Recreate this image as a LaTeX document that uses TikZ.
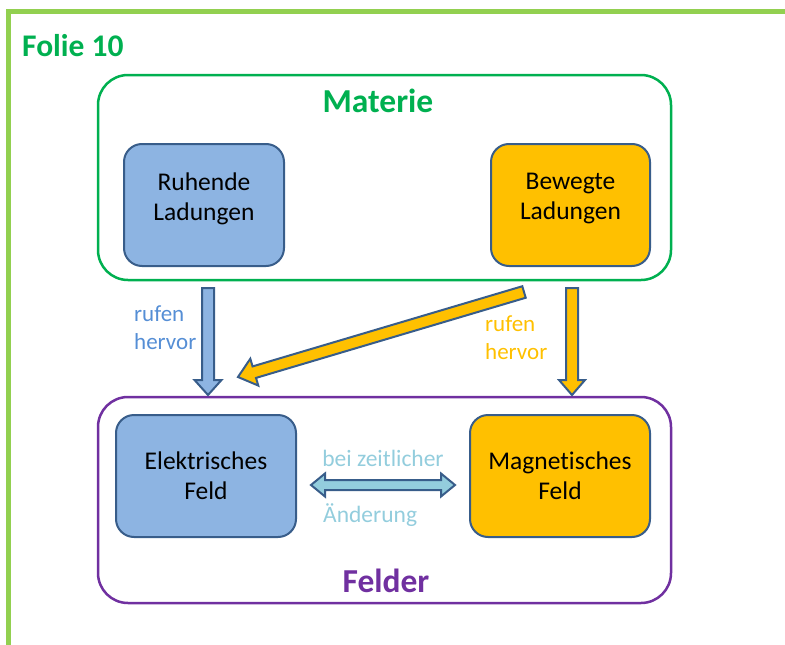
\documentclass[tikz,border=0pt]{standalone}
\usepackage{fontspec}
\setmainfont{Carlito}[Ligatures=NoCommon]
\usetikzlibrary{calc}
\definecolor{framegreen}{HTML}{92D050}
\definecolor{matgreen}{HTML}{00B050}
\definecolor{felpurple}{HTML}{7030A0}
\definecolor{outl}{HTML}{385D8A}
\definecolor{bluefill}{HTML}{8DB4E2}
\definecolor{orangefill}{HTML}{FFC000}
\definecolor{aquafill}{HTML}{93CDDD}
\definecolor{bluetext}{HTML}{558ED5}
\tikzset{
  group/.style={draw, line width=2.5pt, rounded corners=30pt, inner sep=0},
  box/.style={draw=outl, line width=2pt, rounded corners=18pt, align=center,
    font=\fontsize{25.5}{30}\selectfont, inner sep=0},
  boxtext/.style={align=center, font=\fontsize{25.5}{30}\selectfont, inner sep=0},
  blockarr/.style={draw=outl, line width=2pt, line join=miter},
  lbl/.style={font=\fontsize{23}{28}\selectfont, align=left, inner sep=0},
  title/.style={font=\bfseries\fontsize{33.5}{38}\selectfont, inner sep=0}
}
% #1 style, #2 start, #3 tip, #4 shaft half, #5 head half, #6 head length
\newcommand{\singlearrow}[6]{%
  \coordinate (hb) at ($(#3)!#6!(#2)$);
  \draw[#1] ($(#2)!#4!90:(#3)$) -- ($(hb)!#4!90:(#3)$) -- ($(hb)!#5!90:(#3)$)
    -- (#3) -- ($(hb)!#5!-90:(#3)$) -- ($(hb)!#4!-90:(#3)$) -- ($(#2)!#4!-90:(#3)$) -- cycle;
}
\newcommand{\doublearrow}[6]{%
  \coordinate (hb) at ($(#3)!#6!(#2)$);
  \coordinate (ha) at ($(#2)!#6!(#3)$);
  \draw[#1] (#2) -- ($(ha)!#5!90:(#3)$) -- ($(ha)!#4!90:(#3)$) -- ($(hb)!#4!90:(#3)$)
    -- ($(hb)!#5!90:(#3)$) -- (#3) -- ($(hb)!#5!-90:(#3)$) -- ($(hb)!#4!-90:(#3)$)
    -- ($(ha)!#4!-90:(#3)$) -- ($(ha)!#5!-90:(#3)$) -- cycle;
}
\begin{document}
\begin{tikzpicture}[x=1pt,y=-1pt]
\useasboundingbox (0,0) rectangle (785,645);
% slide frame
\draw[framegreen, line width=5pt] (8.5,645) -- (8.5,11) -- (785,11);
\node[title, font=\bfseries\fontsize{31.5}{38}\selectfont, text=matgreen, anchor=west] (folie) at (22,46) {Folie 10};

% groups
\node[group, draw=matgreen, minimum width=573, minimum height=205] (mat) at (384.5,177.5) {};
\node[title, text=matgreen] (mattitle) at (378,101) {Materie};
\node[group, draw=felpurple, minimum width=573, minimum height=206] (fel) at (384.5,500) {};
\node[title, text=felpurple] (feltitle) at (386,581) {Felder};

% boxes
\node[box, fill=bluefill, minimum width=160, minimum height=122] (ruh) at (204,205) {};
\node[boxtext] (ruht) at (204,199) {Ruhende\\Ladungen};
\node[box, fill=orangefill, minimum width=159, minimum height=122] (bew) at (570.5,205) {};
\node[boxtext] (bewt) at (570.5,199) {Bewegte\\Ladungen};
\node[box, fill=bluefill, minimum width=180, minimum height=122] (ele) at (206,476) {Elektrisches\\Feld};
\node[box, fill=orangefill, minimum width=180, minimum height=122] (mag) at (560,476) {Magnetisches\\Feld};

% arrows
\coordinate (a1s) at (208,288);
\coordinate (a1t) at (208,395);
\singlearrow{blockarr, fill=bluefill}{a1s}{a1t}{6pt}{13.5pt}{15pt}
\coordinate (a2s) at (524,292);
\coordinate (a2t) at (238,377);
\singlearrow{blockarr, fill=orangefill}{a2s}{a2t}{6pt}{14pt}{17pt}
\coordinate (a3s) at (572,288);
\coordinate (a3t) at (572,395);
\singlearrow{blockarr, fill=orangefill}{a3s}{a3t}{6pt}{13pt}{15pt}
\coordinate (a4s) at (311,485);
\coordinate (a4t) at (455,485);
\doublearrow{blockarr, fill=aquafill}{a4s}{a4t}{5pt}{11.5pt}{14pt}

% labels
\node[lbl, text=bluetext, anchor=west] (l1) at (134,328) {rufen\\hervor};
\node[lbl, text=orangefill, anchor=west] (l2) at (485,338) {rufen\\hervor};
\node[lbl, font=\fontsize{23.5}{28}\selectfont, text=aquafill] (l3) at (383,458) {bei zeitlicher};
\node[lbl, font=\fontsize{23.5}{28}\selectfont, text=aquafill, anchor=west] (l4) at (323,515) {Änderung};
\end{tikzpicture}
\end{document}
